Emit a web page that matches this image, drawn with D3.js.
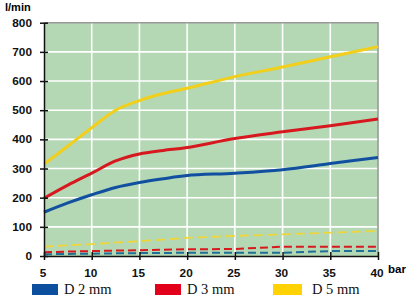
<!DOCTYPE html>
<html>
<head>
<meta charset="utf-8">
<script src="https://cdn.jsdelivr.net/npm/d3@7"></script>
<style>
  body { margin: 0; background: #fff; }
  .tick text { font-family: "Liberation Sans", Arial, sans-serif; font-weight: bold; font-size: 11.8px; fill: #111; }
</style>
</head>
<body>
<div id="chart"></div>
<script>
// data
var pressure = [5, 7.5, 10, 12.5, 15, 17.5, 20, 25, 30, 35, 40];
var d2 = [150, 182, 210, 235, 252, 265, 276, 284, 296, 317, 338];
var d3mm = [198, 243, 284, 326, 350, 362, 372, 403, 426, 447, 470];
var d5 = [315, 377, 440, 500, 533, 557, 575, 615, 648, 683, 718];

var pressureLow = [5, 10, 15, 20, 25, 30, 35, 40];
var d2Low = [6, 8, 10, 11, 11, 11, 17, 17];
var d3Low = [13, 17, 20, 23, 24, 32, 32, 32];
var d5Low = [32, 41, 51, 62, 69, 74, 80, 86];

var xTicks = [5, 10, 15, 20, 25, 30, 35, 40];
var yTicks = [0, 100, 200, 300, 400, 500, 600, 700, 800];
var legendLabels = ["D 2 mm", "D 3 mm", "D 5 mm"];
var colors = ["#1150a0", "#d7191f", "#f2cf1a"];

var svgWidth = 408;
var svgHeight = 298;
var margin = { top: 22.7, right: 30, bottom: 42, left: 44 };
var width = svgWidth - margin.left - margin.right;
var height = svgHeight - margin.top - margin.bottom;

var svg = d3.select("#chart")
  .append("svg")
  .attr("width", svgWidth)
  .attr("height", svgHeight);

var chartGroup = svg.append("g")
  .attr("transform", `translate(${margin.left}, ${margin.top})`);

var x = d3.scaleLinear().domain([5, 40]).range([0, width]);
var y = d3.scaleLinear().domain([0, 800]).range([height, 0]);

// green background
chartGroup.append("rect")
  .attr("width", width)
  .attr("height", height)
  .attr("fill", "#b4d7b4");

// white grid
chartGroup.selectAll(".hgrid")
  .data(yTicks.slice(1, -1))
  .enter()
  .append("line")
  .attr("x1", 0).attr("x2", width)
  .attr("y1", d => y(d)).attr("y2", d => y(d))
  .attr("stroke", "#fff").attr("stroke-width", 1.6);

chartGroup.selectAll(".vgrid")
  .data(xTicks.slice(1, -1))
  .enter()
  .append("line")
  .attr("y1", 0).attr("y2", height)
  .attr("x1", d => x(d)).attr("x2", d => x(d))
  .attr("stroke", "#fff").attr("stroke-width", 1.6);

// grey border top and right
chartGroup.append("path")
  .attr("d", `M0,0H${width}V${height}`)
  .attr("fill", "none")
  .attr("stroke", "#9a9a9a")
  .attr("stroke-width", 1.6);

// lines
var solid = [d2, d3mm, d5];
var low = [d2Low, d3Low, d5Low];

var curve = d3.line()
  .x(d => x(d[0]))
  .y(d => y(d[1]))
  .curve(d3.curveCatmullRom.alpha(0.5));

var straight = d3.line()
  .x(d => x(d[0]))
  .y(d => y(d[1]));

var lowColors = ["#1f6f96", "#d7191f", "#f0d63a"];
low.forEach(function(vals, i) {
  chartGroup.append("path")
    .attr("d", straight(pressureLow.map((p, j) => [p, vals[j]])))
    .attr("fill", "none")
    .attr("stroke", lowColors[i])
    .attr("stroke-width", i == 2 ? 1.8 : 2)
    .attr("stroke-dasharray", i == 2 ? "9,5" : "8,4");
});

solid.forEach(function(vals, i) {
  chartGroup.append("path")
    .attr("d", curve(pressure.map((p, j) => [p, vals[j]])))
    .attr("fill", "none")
    .attr("stroke", colors[i])
    .attr("stroke-width", 3);
});

// axes
var bottomAxis = d3.axisBottom(x).tickValues(xTicks).tickSizeInner(4).tickSizeOuter(0).tickPadding(9);
var leftAxis = d3.axisLeft(y).tickValues(yTicks).tickSizeInner(4).tickSizeOuter(0).tickPadding(8);

var xAxisG = chartGroup.append("g")
  .attr("transform", `translate(0, ${height})`)
  .call(bottomAxis);
xAxisG.selectAll(".tick line").attr("y1", -4).attr("stroke", "#111").attr("stroke-width", 1.5);
xAxisG.selectAll(".tick text").attr("dx", -1.5);
xAxisG.select(".domain").attr("stroke", "#111").attr("stroke-width", 1.5);

var yAxisG = chartGroup.append("g").call(leftAxis);
yAxisG.selectAll(".tick line").attr("x1", 4).attr("stroke", "#111").attr("stroke-width", 1.5);
yAxisG.selectAll(".tick text").attr("dy", "0.3em");
yAxisG.select(".domain").attr("stroke", "#111").attr("stroke-width", 1.5);

// axis labels
svg.append("text")
  .attr("x", 5)
  .attr("y", 11)
  .style("font-family", "Liberation Sans, Arial, sans-serif")
  .style("font-weight", "bold")
  .style("font-size", "11px")
  .text("l/min");

svg.append("text")
  .attr("x", 388)
  .attr("y", 272.5)
  .style("font-family", "Liberation Sans, Arial, sans-serif")
  .style("font-weight", "bold")
  .style("font-size", "11.5px")
  .text("bar");

// legend
var legendX = [32, 155, 273];
var legend = svg.selectAll(".legend")
  .data(legendLabels)
  .enter()
  .append("g")
  .attr("transform", (d, i) => `translate(${legendX[i]}, 284)`);

legend.append("rect")
  .attr("width", (d, i) => i == 2 ? 29 : 26)
  .attr("height", 11)
  .attr("fill", (d, i) => ["#0c4f9f", "#e2001a", "#ffd200"][i]);

legend.append("text")
  .attr("x", (d, i) => i == 2 ? 39 : 32)
  .attr("y", 10)
  .style("font-family", "Liberation Serif, Times New Roman, serif")
  .style("font-size", "14.5px")
  .style("fill", "#111")
  .text(d => d);
</script>
</body>
</html>
